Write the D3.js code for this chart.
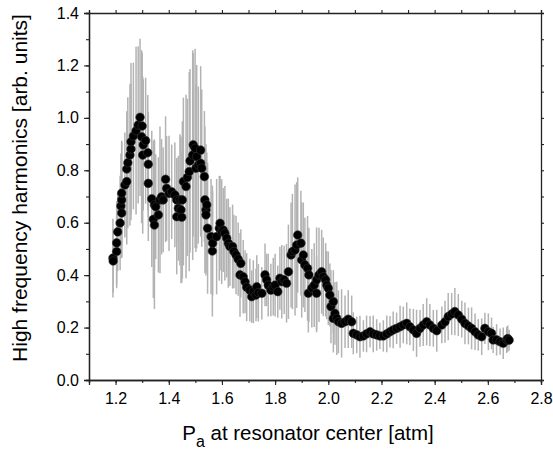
<!DOCTYPE html>
<html>
<head>
<meta charset="utf-8">
<script src="https://cdn.jsdelivr.net/npm/d3@7"></script>
<style>
  body { margin: 0; background: #fff; }
  svg text { font-family: Arial, "Liberation Sans", sans-serif; fill: #000; }
</style>
</head>
<body>
<svg id="chart"></svg>
<script>
// Pressure at resonator center [atm]
const pa = [
  1.190, 1.191, 1.204, 1.204, 1.208, 1.217, 1.220, 1.223, 1.223, 1.223,
  1.235, 1.242, 1.242, 1.246, 1.254, 1.258, 1.258, 1.267, 1.277, 1.285,
  1.292, 1.298, 1.300, 1.302, 1.304, 1.313, 1.321, 1.323, 1.323, 1.336,
  1.342, 1.346, 1.346, 1.351, 1.361, 1.367, 1.373, 1.379, 1.388, 1.392,
  1.401, 1.411, 1.423, 1.430, 1.430, 1.436, 1.442, 1.446, 1.449, 1.451,
  1.455, 1.465, 1.470, 1.477, 1.480, 1.490, 1.492, 1.499, 1.502, 1.505,
  1.511, 1.520, 1.520, 1.524, 1.534, 1.536, 1.540, 1.540, 1.543, 1.546,
  1.559, 1.564, 1.565, 1.580, 1.590, 1.593, 1.599, 1.605, 1.611, 1.618,
  1.624, 1.630, 1.640, 1.645, 1.653, 1.661, 1.668, 1.671, 1.680, 1.687,
  1.693, 1.705, 1.712, 1.718, 1.728, 1.731, 1.737, 1.750, 1.762, 1.768,
  1.774, 1.784, 1.793, 1.800, 1.810, 1.818, 1.825, 1.834, 1.843, 1.850,
  1.860, 1.865, 1.875, 1.881, 1.885, 1.897, 1.900, 1.906, 1.912, 1.922,
  1.925, 1.927, 1.938, 1.947, 1.956, 1.956, 1.965, 1.975, 1.981, 1.990,
  1.994, 2.000, 2.006, 2.010, 2.019, 2.019, 2.025, 2.032, 2.038, 2.050,
  2.063, 2.075, 2.088, 2.094, 2.107, 2.119, 2.132, 2.144, 2.157, 2.169,
  2.182, 2.194, 2.207, 2.220, 2.232, 2.244, 2.257, 2.270, 2.282, 2.295,
  2.307, 2.320, 2.332, 2.345, 2.357, 2.370, 2.382, 2.395, 2.408, 2.427,
  2.439, 2.451, 2.464, 2.476, 2.489, 2.502, 2.514, 2.527, 2.539, 2.552,
  2.564, 2.577, 2.589, 2.602, 2.614, 2.620, 2.633, 2.646, 2.658, 2.671,
  2.675, 2.680
];

// High frequency harmonics [arb. units]
const harm = [
  0.465, 0.454, 0.490, 0.523, 0.565, 0.599, 0.664, 0.637, 0.687, 0.713,
  0.744, 0.757, 0.805, 0.829, 0.858, 0.881, 0.909, 0.931, 0.951, 0.973,
  1.002, 0.928, 0.969, 0.858, 0.897, 0.913, 0.867, 0.823, 0.750, 0.691,
  0.613, 0.668, 0.591, 0.661, 0.630, 0.687, 0.699, 0.687, 0.766, 0.731,
  0.712, 0.718, 0.706, 0.687, 0.623, 0.655, 0.687, 0.649, 0.621, 0.687,
  0.757, 0.738, 0.773, 0.795, 0.836, 0.858, 0.897, 0.884, 0.808, 0.852,
  0.820, 0.877, 0.827, 0.808, 0.776, 0.687, 0.649, 0.630, 0.668, 0.579,
  0.547, 0.492, 0.522, 0.547, 0.579, 0.598, 0.566, 0.572, 0.560, 0.541,
  0.522, 0.509, 0.509, 0.490, 0.477, 0.461, 0.401, 0.445, 0.394, 0.375,
  0.354, 0.343, 0.318, 0.337, 0.324, 0.356, 0.333, 0.331, 0.401, 0.382,
  0.362, 0.343, 0.356, 0.362, 0.337, 0.388, 0.375, 0.382, 0.369, 0.413,
  0.477, 0.490, 0.496, 0.515, 0.553, 0.522, 0.458, 0.477, 0.439, 0.426,
  0.331, 0.401, 0.350, 0.362, 0.382, 0.331, 0.401, 0.413, 0.394, 0.382,
  0.362, 0.350, 0.324, 0.280, 0.299, 0.235, 0.254, 0.235, 0.222, 0.216,
  0.222, 0.232, 0.222, 0.178, 0.172, 0.165, 0.168, 0.176, 0.184, 0.176,
  0.172, 0.168, 0.168, 0.176, 0.184, 0.191, 0.197, 0.203, 0.210, 0.216,
  0.203, 0.191, 0.178, 0.197, 0.210, 0.222, 0.210, 0.197, 0.188, 0.210,
  0.222, 0.242, 0.252, 0.261, 0.248, 0.232, 0.216, 0.206, 0.197, 0.184,
  0.172, 0.165, 0.197, 0.184, 0.178, 0.153, 0.153, 0.146, 0.140, 0.153,
  0.158, 0.152
];

// Half length of the grey error bars
const err = [
  0.15, 0.12, 0.14, 0.16, 0.15, 0.18, 0.20, 0.17, 0.22, 0.20,
  0.20, 0.24, 0.22, 0.25, 0.27, 0.25, 0.30, 0.28, 0.32, 0.30,
  0.30, 0.33, 0.28, 0.30, 0.25, 0.24, 0.22, 0.20, 0.22, 0.26,
  0.30, 0.25, 0.32, 0.20, 0.22, 0.28, 0.22, 0.20, 0.24, 0.20,
  0.22, 0.18, 0.20, 0.16, 0.22, 0.20, 0.25, 0.28, 0.25, 0.30,
  0.32, 0.35, 0.30, 0.38, 0.35, 0.40, 0.35, 0.38, 0.32, 0.35,
  0.30, 0.32, 0.28, 0.30, 0.25, 0.28, 0.25, 0.22, 0.20, 0.25,
  0.22, 0.25, 0.20, 0.22, 0.20, 0.18, 0.20, 0.16, 0.18, 0.15,
  0.17, 0.15, 0.16, 0.14, 0.15, 0.14, 0.16, 0.13, 0.14, 0.12,
  0.13, 0.12, 0.10, 0.12, 0.10, 0.12, 0.11, 0.10, 0.12, 0.10,
  0.12, 0.10, 0.11, 0.12, 0.10, 0.12, 0.14, 0.13, 0.15, 0.18,
  0.20, 0.22, 0.25, 0.24, 0.22, 0.20, 0.22, 0.20, 0.18, 0.20,
  0.15, 0.18, 0.15, 0.16, 0.20, 0.14, 0.18, 0.16, 0.15, 0.14,
  0.13, 0.14, 0.12, 0.14, 0.12, 0.13, 0.12, 0.14, 0.12, 0.13,
  0.10, 0.11, 0.10, 0.08, 0.07, 0.08, 0.06, 0.07, 0.06, 0.07,
  0.06, 0.05, 0.06, 0.07, 0.06, 0.07, 0.06, 0.08, 0.07, 0.08,
  0.07, 0.08, 0.09, 0.07, 0.08, 0.09, 0.08, 0.07, 0.08, 0.07,
  0.08, 0.09, 0.08, 0.09, 0.08, 0.07, 0.08, 0.07, 0.08, 0.07,
  0.06, 0.07, 0.06, 0.07, 0.06, 0.05, 0.06, 0.05, 0.06, 0.05,
  0.05, 0.04
];

const xTicks = [1.2, 1.4, 1.6, 1.8, 2.0, 2.2, 2.4, 2.6, 2.8];
const yTicks = [0.0, 0.2, 0.4, 0.6, 0.8, 1.0, 1.2, 1.4];

const data = pa.map((p, i) => ({ x: p, y: harm[i], e: err[i] }));

const W = 553, H = 454;
const margin = { top: 13, right: 12, bottom: 74, left: 89 };
const width = W - margin.left - margin.right;
const height = H - margin.top - margin.bottom;

const svg = d3.select('#chart')
    .attr('width', W)
    .attr('height', H);

const g = svg.append('g')
    .attr('transform', `translate(${margin.left},${margin.top})`);

const x = d3.scaleLinear().domain([1.1, 2.8]).range([0, width]);
const y = d3.scaleLinear().domain([0, 1.4]).range([height, 0]);

// Grey error bars
g.append('g')
    .selectAll('line')
    .data(data)
    .enter()
    .append('line')
    .attr('x1', d => x(d.x))
    .attr('x2', d => x(d.x))
    .attr('y1', d => y(d.y + d.e))
    .attr('y2', d => y(Math.max(0, d.y - d.e)))
    .attr('stroke', '#b3b3b3')
    .attr('stroke-width', 1.5);

// Black dots
g.append('g')
    .selectAll('circle')
    .data(data)
    .enter()
    .append('circle')
    .attr('cx', d => x(d.x))
    .attr('cy', d => y(d.y))
    .attr('r', 4.3)
    .attr('fill', '#000')
    .attr('stroke', '#333')
    .attr('stroke-width', 0.6);

// Axes (minor ticks every 0.1)
const minorX = d3.range(11, 29).map(v => v / 10);
const minorY = d3.range(0, 15).map(v => v / 10);

function styleAxis(sel) {
    sel.select('.domain').attr('stroke', '#222').attr('stroke-width', 1.3);
    sel.selectAll('.tick line').attr('stroke', '#222').attr('stroke-width', 1.1);
    sel.selectAll('.tick text').style('font-size', '16px').attr('fill', '#000');
}

g.append('g')
    .attr('transform', `translate(0,${height})`)
    .call(d3.axisBottom(x).tickValues(minorX).tickSize(3).tickFormat(''))
    .call(styleAxis);
g.append('g')
    .attr('transform', `translate(0,${height})`)
    .call(d3.axisBottom(x).tickValues(xTicks).tickSize(5).tickPadding(8).tickFormat(d3.format('.1f')))
    .call(styleAxis);

g.append('g')
    .call(d3.axisTop(x).tickValues(minorX).tickSize(3).tickFormat(''))
    .call(styleAxis);

g.append('g')
    .call(d3.axisLeft(y).tickValues(minorY).tickSize(3).tickFormat(''))
    .call(styleAxis);
g.append('g')
    .call(d3.axisLeft(y).tickValues(yTicks).tickSize(5).tickPadding(5).tickFormat(d3.format('.1f')))
    .call(styleAxis);

g.append('g')
    .attr('transform', `translate(${width},0)`)
    .call(d3.axisRight(y).tickValues(minorY).tickSize(3).tickFormat(''))
    .call(styleAxis);

// Axis titles
const xt = svg.append('text')
    .attr('x', 308)
    .attr('y', 440)
    .attr('text-anchor', 'middle')
    .style('font-size', '20.5px');
xt.append('tspan').text('P');
xt.append('tspan').attr('dy', 7).style('font-size', '16px').text('a');
xt.append('tspan').attr('dy', -7).text(' at resonator center [atm]');

svg.append('text')
    .attr('transform', `translate(27,188) rotate(-90)`)
    .attr('text-anchor', 'middle')
    .style('font-size', '21px')
    .text('High frequency harmonics [arb. units]');
</script>
</body>
</html>
